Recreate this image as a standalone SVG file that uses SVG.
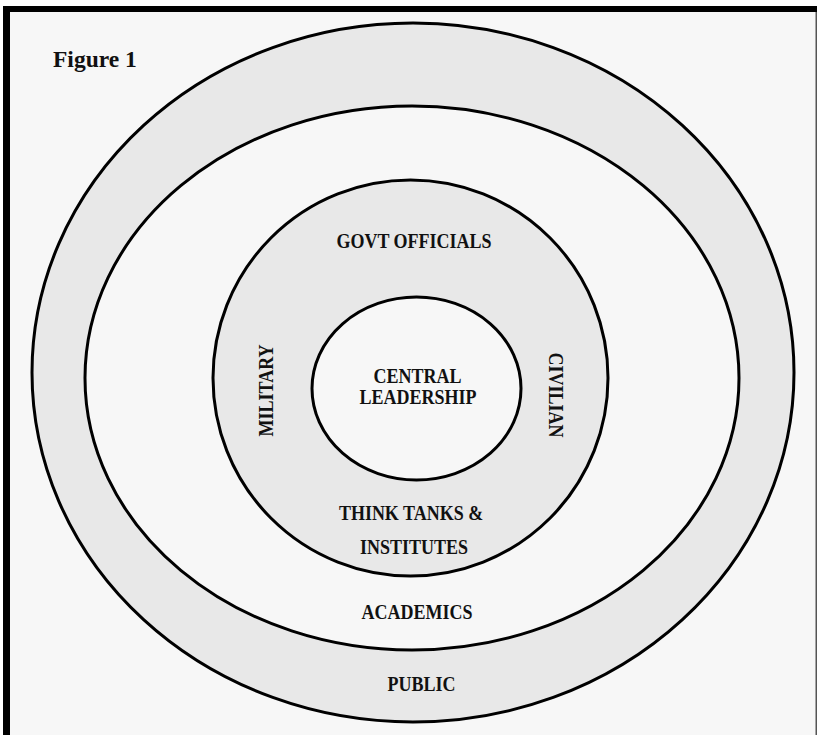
<svg xmlns="http://www.w3.org/2000/svg" width="817" height="735" viewBox="0 0 817 735">
  <style>
    .ring { stroke: #000; stroke-width: 3; }
    .grey { fill: #e8e8e8; }
    .light { fill: #f7f7f7; }
    .lbl { font-family: "Liberation Serif", "Times New Roman", serif; font-weight: bold; font-size: 18px; fill: #111; text-anchor: middle; }
    .title { font-family: "Liberation Serif", "Times New Roman", serif; font-weight: bold; font-size: 23.5px; fill: #111; }
  </style>
  <rect x="0" y="0" width="817" height="735" fill="#ffffff"/>
  <rect x="10" y="12" width="807" height="723" fill="#f7f7f7"/>
  <rect x="3" y="6" width="814" height="6" fill="#000"/>
  <rect x="3" y="6" width="7" height="729" fill="#000"/>
  <rect x="815.5" y="12" width="1.5" height="723" fill="#555"/>
  <text class="title" x="53" y="67">Figure 1</text>
  <g id="public">
    <ellipse class="ring grey" cx="413" cy="372.5" rx="381" ry="349.5"/>
    <text class="lbl" transform="translate(421.5,691) scale(1,1.15)">PUBLIC</text>
  </g>
  <g id="academics">
    <ellipse class="ring light" cx="412" cy="378" rx="327" ry="272"/>
    <text class="lbl" transform="translate(417,619) scale(1,1.15)">ACADEMICS</text>
  </g>
  <g id="middle-ring">
    <ellipse class="ring grey" cx="410.5" cy="378" rx="197.5" ry="198"/>
    <text class="lbl" transform="translate(414,248) scale(1,1.15)">GOVT OFFICIALS</text>
    <text class="lbl" transform="translate(411,520) scale(1,1.15)">THINK TANKS &amp;</text>
    <text class="lbl" transform="translate(414,554) scale(1,1.15)">INSTITUTES</text>
    <text class="lbl" transform="translate(273,390.5) rotate(-90) scale(1,1.15)">MILITARY</text>
    <text class="lbl" transform="translate(548.5,395) rotate(90) scale(1,1.15)">CIVILIAN</text>
  </g>
  <g id="central">
    <ellipse class="ring light" cx="416.5" cy="388.5" rx="104.5" ry="91.5"/>
    <text class="lbl" transform="translate(417.5,383) scale(1,1.15)">CENTRAL</text>
    <text class="lbl" transform="translate(418,404) scale(1,1.15)">LEADERSHIP</text>
  </g>
  <g id="connectors"/>
</svg>
